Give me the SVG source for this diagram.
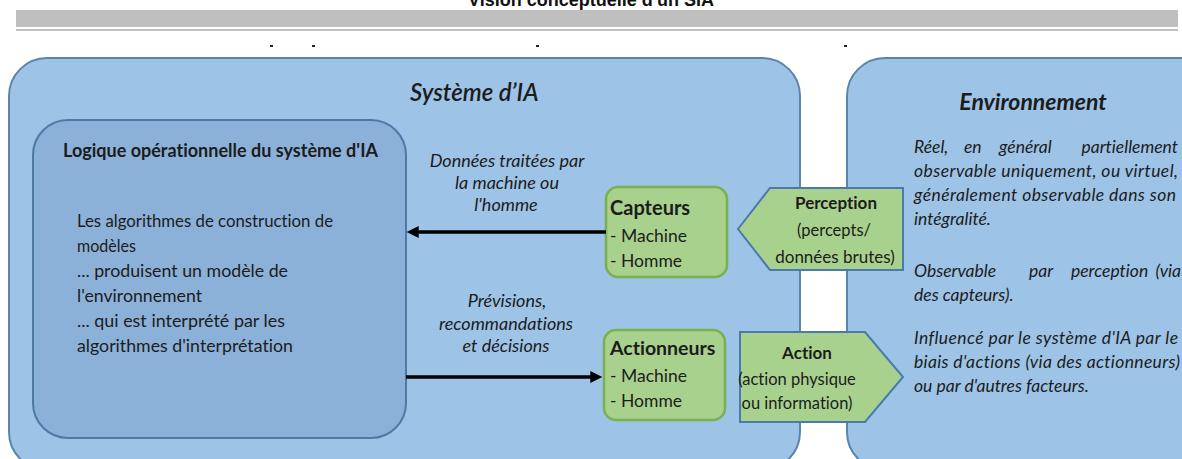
<svg xmlns="http://www.w3.org/2000/svg" width="1182" height="459" viewBox="0 0 1182 459">
<defs>
<style>
.t{font-family:Lato,"Open Sans","DejaVu Sans",sans-serif;fill:#1c1c1c;font-variant-ligatures:none;font-feature-settings:"liga" 0,"clig" 0,"dlig" 0}
.b{font-weight:bold}
.sb{font-weight:600}
.i{font-style:italic}
.hdr{font-family:"Liberation Sans",Arial,sans-serif;font-weight:bold;font-size:18px;fill:#111}
.outer{fill:#9dc3e6;stroke:#5b84ad;stroke-width:2}
.inner{fill:#8bb1d9;stroke:#4d79a5;stroke-width:2}
.green{fill:#a9d18e;stroke:#78b150;stroke-width:2.5}
.greenb{fill:#a9d18e;stroke:#4a7aac;stroke-width:2}
.conn{stroke:#000;stroke-width:3.5;fill:none}
.mark{fill:#222}
</style>
<marker id="ah" viewBox="0 0 10 10" refX="6.4" refY="5" markerWidth="14" markerHeight="12" markerUnits="userSpaceOnUse" orient="auto">
<path d="M0,0 L10,5 L0,10 z" fill="#000"/>
</marker>
</defs>
<rect x="0" y="0" width="1182" height="459" fill="#fff"/>

<g id="header">
<text class="hdr" x="591" y="6" text-anchor="middle">Vision conceptuelle d'un SIA</text>
<rect x="16" y="10" width="1162" height="17" fill="#bfbfbf"/>
<rect x="16" y="29" width="1162" height="2" fill="#bfbfbf"/>
<rect class="mark" x="270" y="45" width="3" height="2"/>
<rect class="mark" x="312" y="45" width="3" height="2"/>
<rect class="mark" x="536" y="45" width="3" height="2"/>
<rect class="mark" x="844" y="45" width="3" height="2"/>
</g>

<g id="systeme-ia">
<rect class="outer" x="9" y="58" width="791" height="412" rx="38"/>
<text class="t i sb" x="410" y="101" font-size="24">Système d’IA</text>
</g>

<g id="environnement">
<rect class="outer" x="847" y="58" width="380" height="412" rx="38"/>
<text class="t b i" x="1033" y="110" font-size="23" text-anchor="middle">Environnement</text>
<g class="t i" font-size="17.5">
<text y="153"><tspan x="914">Réel,</tspan><tspan x="964">en</tspan><tspan x="999">général</tspan></text>
<text x="1178" y="153" text-anchor="end">partiellement</text>
<text x="914" y="177" textLength="264" lengthAdjust="spacing">observable uniquement, ou virtuel,</text>
<text x="914" y="201" textLength="262" lengthAdjust="spacing">généralement observable dans son</text>
<text x="914" y="225">intégralité.</text>
<text y="277"><tspan x="914">Observable</tspan><tspan x="1029">par</tspan><tspan x="1071">perception</tspan></text>
<text x="1181" y="277" text-anchor="end">(via</text>
<text x="914" y="301">des capteurs).</text>
<text x="914" y="344" textLength="264" lengthAdjust="spacing">Influencé par le système d'IA par le</text>
<text x="914" y="368" textLength="266" lengthAdjust="spacing">biais d'actions (via des actionneurs)</text>
<text x="914" y="392">ou par d'autres facteurs.</text>
</g>
</g>

<g id="logique">
<rect class="inner" x="33" y="120" width="373" height="318" rx="35"/>
<text class="t b" x="63" y="157" font-size="18" textLength="315" lengthAdjust="spacingAndGlyphs">Logique opérationnelle du système d'IA</text>
<g class="t" font-size="17.5">
<text x="77" y="227" textLength="256" lengthAdjust="spacingAndGlyphs">Les algorithmes de construction de</text>
<text x="77" y="252" textLength="59" lengthAdjust="spacingAndGlyphs">modèles</text>
<text x="77" y="277" textLength="211" lengthAdjust="spacingAndGlyphs">... produisent un modèle de</text>
<text x="77" y="302" textLength="125" lengthAdjust="spacingAndGlyphs">l'environnement</text>
<text x="77" y="327" textLength="208" lengthAdjust="spacingAndGlyphs">... qui est interprété par les</text>
<text x="77" y="352" textLength="216" lengthAdjust="spacingAndGlyphs">algorithmes d'interprétation</text>
</g>
</g>

<g id="capteurs">
<rect class="green" x="606" y="187" width="121" height="90" rx="12"/>
<text class="t b" x="610" y="215" font-size="20">Capteurs</text>
<text class="t" x="610" y="242" font-size="17.5">- Machine</text>
<text class="t" x="610" y="267" font-size="17.5">- Homme</text>
</g>

<g id="actionneurs">
<rect class="green" x="604" y="330" width="121" height="90" rx="12"/>
<text class="t b" x="610" y="355" font-size="19.5">Actionneurs</text>
<text class="t" x="610" y="382" font-size="17.5">- Machine</text>
<text class="t" x="610" y="407" font-size="17.5">- Homme</text>
</g>

<g id="perception">
<polygon class="greenb" points="738,229 770,188 903,188 903,270 770,270"/>
<g class="t" text-anchor="middle">
<text class="b" x="836" y="209" font-size="17">Perception</text>
<text x="834" y="236" font-size="16.5">(percepts/</text>
<text x="835" y="263" font-size="17">données brutes)</text>
</g>
</g>

<g id="action">
<polygon class="greenb" points="740,332 865,332 903,377 865,422 740,422"/>
<g class="t" text-anchor="middle">
<text class="b" x="807" y="359" font-size="17">Action</text>
<text x="797" y="385" font-size="16.5">(action physique</text>
<text x="797" y="409" font-size="16.5">ou information)</text>
</g>
</g>

<g id="connectors">
<line class="conn" x1="606" y1="232" x2="411" y2="232" marker-end="url(#ah)"/>
<line class="conn" x1="406" y1="377" x2="598" y2="377" marker-end="url(#ah)"/>
<g class="t i" font-size="18" text-anchor="middle">
<text x="507" y="167">Données traitées par</text>
<text x="507" y="189">la machine ou</text>
<text x="506" y="211">l'homme</text>
<text x="507" y="307">Prévisions,</text>
<text x="506" y="330">recommandations</text>
<text x="506" y="352">et décisions</text>
</g>
</g>
</svg>
